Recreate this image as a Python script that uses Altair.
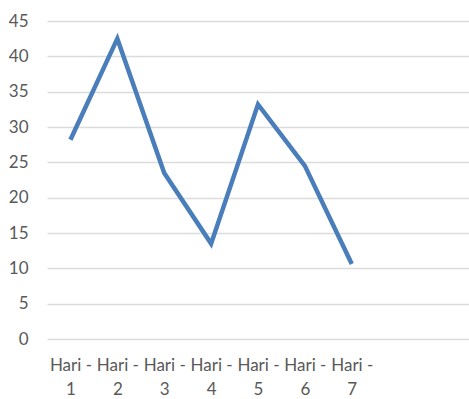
import altair as alt
import pandas as pd

categories = ["Hari - 1", "Hari - 2", "Hari - 3", "Hari - 4", "Hari - 5", "Hari - 6", "Hari - 7"]
values = [28.2, 42.5, 23.5, 13.5, 33.2, 24.5, 10.6]
extra_slots = ["_a", "_b"]
y_ticks = [0, 5, 10, 15, 20, 25, 30, 35, 40, 45]

df = pd.DataFrame({"hari": categories, "nilai": values})

chart = alt.Chart(df).mark_line(color="#4a7ebb", strokeWidth=4.5, strokeJoin="miter").encode(
    x=alt.X("hari:N", sort=None,
            scale=alt.Scale(domain=categories + extra_slots, paddingInner=0, paddingOuter=0),
            axis=alt.Axis(title=None, labelAngle=0, domain=False, ticks=False, grid=False,
                          labelExpr="substring(datum.label,0,1) == '_' ? '' : [substring(datum.label,0,6), substring(datum.label,7)]",
                          labelFont="Lato", labelFontSize=17, labelColor="#595959",
                          labelPadding=18, labelLineHeight=24, labelBaseline="top")),
    y=alt.Y("nilai:Q", scale=alt.Scale(domain=[0, 45], nice=False),
            axis=alt.Axis(title=None, values=y_ticks, domain=False, ticks=False,
                          gridColor="#dcdcdc", gridWidth=1.3,
                          labelFont="Lato", labelFontSize=17, labelColor="#595959",
                          labelPadding=19)),
).properties(
    width=422, height=318,
    autosize=alt.AutoSizeParams(type="none"),
    padding={"left": 47, "top": 21, "right": 0, "bottom": 60},
).configure_view(stroke=None)

chart.save("out.html", embed_options={"renderer": "svg", "actions": False})
